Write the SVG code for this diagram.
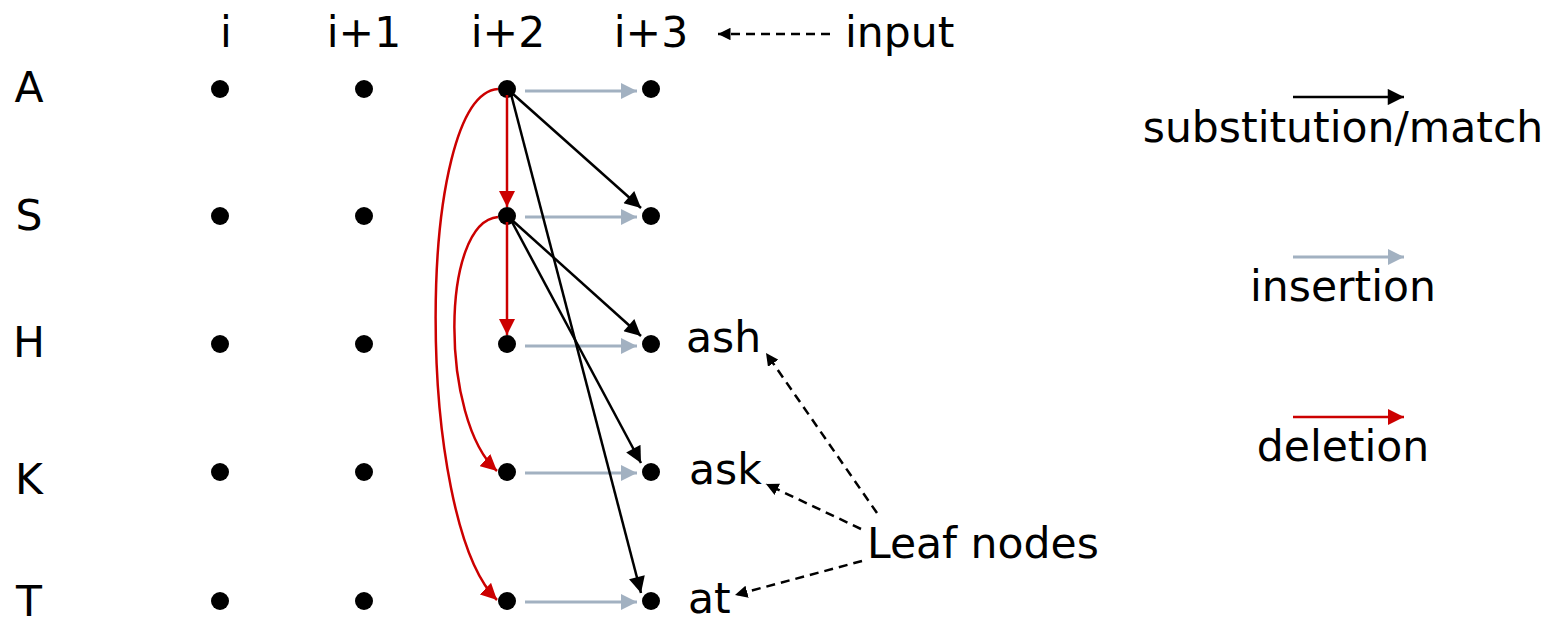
<svg xmlns="http://www.w3.org/2000/svg" width="1559" height="621" viewBox="0 0 1559 621">
  <style>
    text { font-family: "DejaVu Sans", Verdana, sans-serif; font-size: 42.5px; fill: #000; }
    .mid { text-anchor: middle; }
    .dot { fill: #000; }
    .sub { stroke: #000; stroke-width: 2.5; fill: none; }
    .ins { stroke: #A2B1C1; stroke-width: 3; fill: none; }
    .del { stroke: #CC0000; stroke-width: 2.5; fill: none; }
    .note { stroke: #000; stroke-width: 2.5; fill: none; stroke-dasharray: 9 6; }
  </style>
  <defs>
    <marker id="mSub" viewBox="0 0 10 10" refX="10" refY="5" markerWidth="7" markerHeight="6.5" markerUnits="strokeWidth" orient="auto">
      <path d="M0,0 L10,5 L0,10 z" fill="#000"/>
    </marker>
    <marker id="mIns" viewBox="0 0 10 10" refX="10" refY="5" markerWidth="5.5" markerHeight="5.5" markerUnits="strokeWidth" orient="auto">
      <path d="M0,0 L10,5 L0,10 z" fill="#A2B1C1"/>
    </marker>
    <marker id="mDel" viewBox="0 0 10 10" refX="10" refY="5" markerWidth="6.5" markerHeight="6.5" markerUnits="strokeWidth" orient="auto">
      <path d="M0,0 L10,5 L0,10 z" fill="#CC0000"/>
    </marker>
    <marker id="mNote" viewBox="0 0 10 10" refX="10" refY="5" markerWidth="5" markerHeight="5" markerUnits="strokeWidth" orient="auto">
      <path d="M0,0 L10,5 L0,10 z" fill="#000"/>
    </marker>
  </defs>

  <!-- column headers -->
  <g id="headers">
    <text x="226" y="47" class="mid">i</text>
    <text x="364" y="47" class="mid">i+1</text>
    <text x="508" y="47" class="mid">i+2</text>
    <text x="651" y="47" class="mid">i+3</text>
    <text x="845" y="47">input</text>
  </g>

  <!-- row labels -->
  <g id="rows">
    <text x="29" y="102" class="mid">A</text>
    <text x="29" y="230" class="mid">S</text>
    <text x="29" y="357" class="mid">H</text>
    <text x="29" y="494" class="mid">K</text>
    <text x="29" y="616" class="mid">T</text>
  </g>

  <!-- lattice nodes -->
  <g id="nodes">
    <g id="col-i">
      <circle class="dot" cx="220" cy="89" r="9"/>
      <circle class="dot" cx="220" cy="216" r="9"/>
      <circle class="dot" cx="220" cy="344" r="9"/>
      <circle class="dot" cx="220" cy="472" r="9"/>
      <circle class="dot" cx="220" cy="601" r="9"/>
    </g>
    <g id="col-i1">
      <circle class="dot" cx="364" cy="89" r="9"/>
      <circle class="dot" cx="364" cy="216" r="9"/>
      <circle class="dot" cx="364" cy="344" r="9"/>
      <circle class="dot" cx="364" cy="472" r="9"/>
      <circle class="dot" cx="364" cy="601" r="9"/>
    </g>
    <g id="col-i2">
      <circle class="dot" cx="507" cy="89" r="9"/>
      <circle class="dot" cx="507" cy="216" r="9"/>
      <circle class="dot" cx="507" cy="344" r="9"/>
      <circle class="dot" cx="507" cy="472" r="9"/>
      <circle class="dot" cx="507" cy="601" r="9"/>
    </g>
    <g id="col-i3">
      <circle class="dot" cx="651" cy="89" r="9"/>
      <circle class="dot" cx="651" cy="216" r="9"/>
      <circle class="dot" cx="651" cy="344" r="9"/>
      <circle class="dot" cx="651" cy="472" r="9"/>
      <circle class="dot" cx="651" cy="601" r="9"/>
    </g>
  </g>

  <!-- leaf words -->
  <g id="leaves">
    <text x="686" y="352">ash</text>
    <text x="689" y="484">ask</text>
    <text x="688" y="613">at</text>
    <text x="867" y="558">Leaf nodes</text>
  </g>

  <!-- connectors -->
  <g id="connectors">
    <!-- insertions -->
    <line class="ins" x1="525" y1="91" x2="637" y2="91" marker-end="url(#mIns)"/>
    <line class="ins" x1="525" y1="217" x2="637" y2="217" marker-end="url(#mIns)"/>
    <line class="ins" x1="525" y1="346" x2="637" y2="346" marker-end="url(#mIns)"/>
    <line class="ins" x1="525" y1="473" x2="637" y2="473" marker-end="url(#mIns)"/>
    <line class="ins" x1="525" y1="602" x2="637" y2="602" marker-end="url(#mIns)"/>

    <!-- deletions -->
    <line class="del" x1="507" y1="95" x2="507" y2="207" marker-end="url(#mDel)"/>
    <line class="del" x1="507" y1="222" x2="507" y2="335" marker-end="url(#mDel)"/>
    <path class="del" d="M498,217 C440,222 440,420 497,471" marker-end="url(#mDel)"/>
    <path class="del" d="M498,89 C415,95 415,520 497,600" marker-end="url(#mDel)"/>

    <!-- substitutions / matches -->
    <line class="sub" x1="513" y1="94" x2="641" y2="208" marker-end="url(#mSub)"/>
    <line class="sub" x1="511" y1="94" x2="641" y2="593" marker-end="url(#mSub)"/>
    <line class="sub" x1="513" y1="221" x2="641" y2="336" marker-end="url(#mSub)"/>
    <line class="sub" x1="512" y1="222" x2="641" y2="463" marker-end="url(#mSub)"/>

    <!-- annotation pointers -->
    <line class="note" x1="830" y1="34" x2="718" y2="34" marker-end="url(#mNote)"/>
    <line class="note" x1="877" y1="513" x2="766" y2="353" marker-end="url(#mNote)"/>
    <line class="note" x1="861" y1="529" x2="766" y2="484" marker-end="url(#mNote)"/>
    <line class="note" x1="862" y1="561" x2="735" y2="595" marker-end="url(#mNote)"/>
  </g>

  <!-- legend -->
  <g id="legend">
    <line class="sub" x1="1293" y1="97" x2="1404" y2="97" marker-end="url(#mSub)"/>
    <text x="1343" y="142" class="mid">substitution/match</text>
    <line class="ins" x1="1293" y1="257" x2="1404" y2="257" marker-end="url(#mIns)"/>
    <text x="1343" y="301" class="mid">insertion</text>
    <line class="del" x1="1293" y1="417" x2="1404" y2="417" marker-end="url(#mDel)"/>
    <text x="1343" y="461" class="mid">deletion</text>
  </g>
</svg>
